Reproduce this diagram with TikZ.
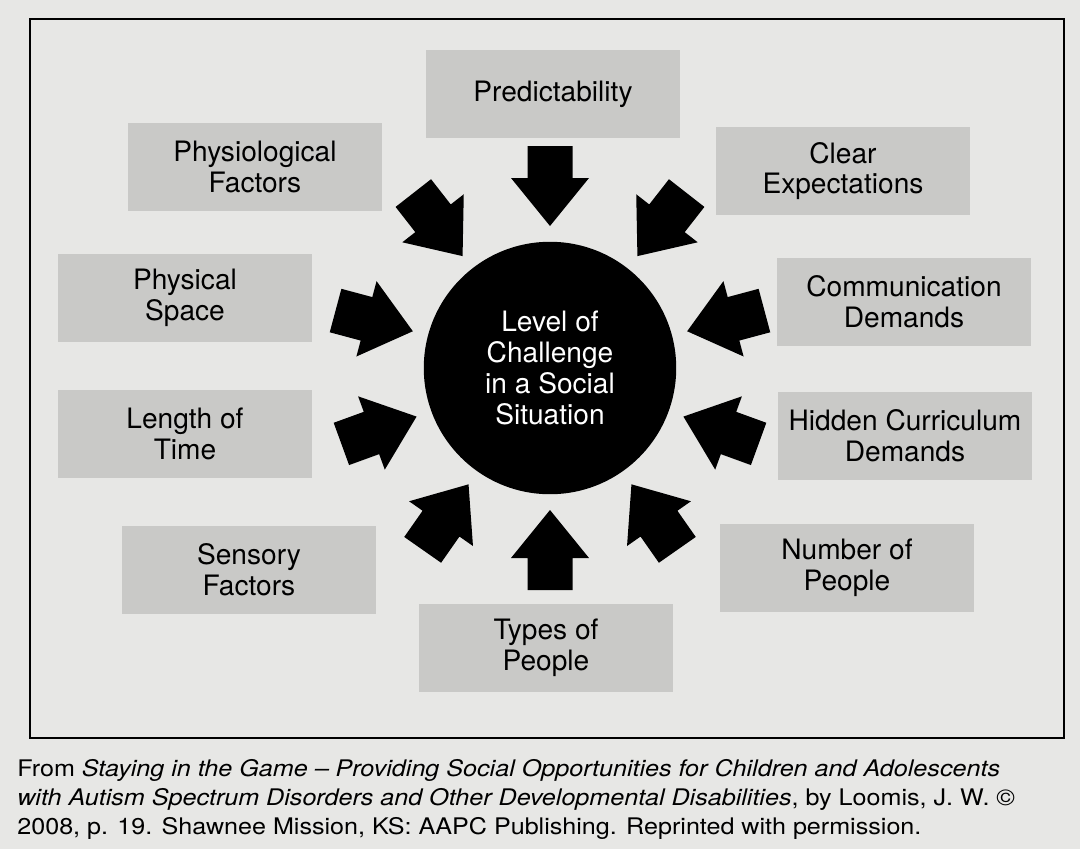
\documentclass[tikz,border=0pt]{standalone}
\usepackage{fontspec}
\setmainfont{TeX Gyre Heros}
\newfontfamily\capfont[FakeStretch=1.1]{TeX Gyre Heros}
\usepackage{tikz}

\definecolor{paper}{HTML}{E7E7E5}
\definecolor{boxgray}{HTML}{C9C9C7}

\tikzset{
  factor/.style={fill=boxgray,minimum width=5.1cm,minimum height=1.76cm,
    align=center,inner sep=2pt,font=\fontsize{16}{17.5}\selectfont},
  core/.style={circle,fill=black,minimum size=5.05cm,inner sep=0pt,text=white,
    align=center,font=\fontsize{16}{17.5}\selectfont}
}

\begin{document}
\begin{tikzpicture}[x=0.02cm,y=-0.02cm]
  \useasboundingbox (0,0) rectangle (1080,849);
  \fill[paper] (0,0) rectangle (1080,849);
  \draw[line width=1.2pt] (30,19) rectangle (1064,738);

  \node[core] (core) at (550,368) {Level of\\Challenge\\in a Social\\Situation};

  \node[factor] (predict) at (553,94) {Predictability};
  \node[factor] (physio) at (255,167) {Physiological\\Factors};
  \node[factor] (clear) at (843,171) {Clear\\Expectations};
  \node[factor] (space) at (185,298) {Physical\\Space};
  \node[factor] (comm) at (904,302) {Communication\\Demands};
  \node[factor] (length) at (185,434) {Length of\\Time};
  \node[factor] (hidden) at (905,436) {Hidden Curriculum\\Demands};
  \node[factor] (sensory) at (249,570) {Sensory\\Factors};
  \node[factor] (number) at (847,568) {Number of\\People};
  \node[factor] (types) at (546,648) {Types of\\People};

  \foreach \a in {90,52,15,-20,-55,-90,-125,200,165,128}
    \fill[shift={(core.center)},rotate=\a] (142,0) -- ++(48,39) -- ++(0,-16.5)
      -- ++(32,0) -- ++(0,-45) -- ++(-32,0) -- ++(0,-16.5) -- cycle;

  \node[anchor=north west,align=left,inner sep=0pt,
    font=\capfont\fontsize{13}{16.5}\selectfont] (credit) at (17,759)
    {From \textit{Staying in the Game \textendash\ Providing Social Opportunities for Children and Adolescents}\\
     \textit{with Autism Spectrum Disorders and Other Developmental Disabilities}, by Loomis, J. W. \textcopyright\\
     2008, p. 19. Shawnee Mission, KS: AAPC Publishing. Reprinted with permission.};
\end{tikzpicture}
\end{document}
